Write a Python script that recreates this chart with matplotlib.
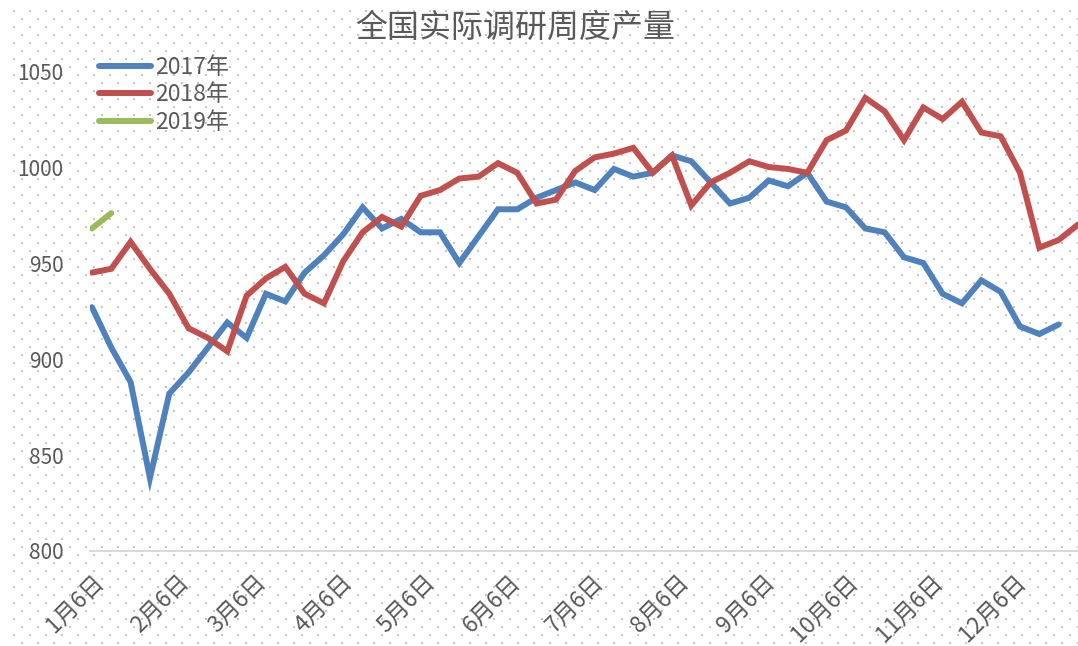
import datetime as dt
import numpy as np
import matplotlib
matplotlib.use("Agg")
import matplotlib.pyplot as plt
import matplotlib.dates as mdates
from matplotlib.ticker import FuncFormatter

plt.rcParams["font.family"] = ["Noto Sans CJK SC", "DejaVu Sans"]

# weekly survey output, week k is Jan 6 + 7k
start = dt.date(2018, 1, 6)
output_2017 = [927, 906, 888, 838, 882, 893, 906, 919, 911, 934, 930, 945, 954, 965, 979,
               968, 973, 966, 966, 950, 964, 978, 978, 984, 988, 992, 988, 999, 995, 997,
               1006, 1003, 992, 981, 984, 993, 990, 997, 982, 979, 968, 966, 953, 950, 934,
               929, 941, 935, 917, 913, 918]
output_2018 = [945, 947, 961, 947, 934, 916, 911, 904, 933, 942, 948, 934, 929, 951, 966,
               974, 969, 985, 988, 994, 995, 1002, 997, 981, 983, 998, 1005, 1007, 1010, 997,
               1006, 980, 992, 997, 1003, 1000, 999, 997, 1014, 1019, 1036, 1029, 1014, 1031, 1025,
               1034, 1018, 1016, 997, 958, 962, 970]
output_2019 = [968, 976]
series = [("2017年", output_2017, "#4F81BD"),
          ("2018年", output_2018, "#C0504D"),
          ("2019年", output_2019, "#9BBB59")]

W, H = 1078, 646
fig = plt.figure(figsize=(W / 100, H / 100), dpi=100)

# dotted pattern background of the chart area
bg = fig.add_axes([0, 0, 1, 1], zorder=-1)
bg.set_xlim(0, W)
bg.set_ylim(H, 0)
bg.axis("off")
xs, ys = np.meshgrid(np.arange(14, W, 16), np.arange(10.7, H, 16))
bg.scatter(xs.ravel(), ys.ravel(), s=0.9, marker="s", color="#C4C4C4", linewidths=0)
bg.scatter(xs.ravel() + 8, ys.ravel() + 8, s=0.9, marker="s", color="#C4C4C4", linewidths=0)

ax = fig.add_axes([90 / W, 1 - 551 / H, 1 - 90 / W, (551 - 48) / H])
ax.patch.set_alpha(0)

for name, vals, color in series:
    dates = [start + dt.timedelta(days=7 * i) for i in range(len(vals))]
    ax.plot(dates, vals, color=color, lw=4.3, label=name, solid_capstyle="round",
            solid_joinstyle="miter")

ax.set_ylim(800, 1062)
ax.set_yticks([800, 850, 900, 950, 1000, 1050])
ax.set_xlim(mdates.date2num(start) - 0.7, mdates.date2num(start) + 357)
ax.xaxis.set_major_locator(mdates.DayLocator(bymonthday=6))
ax.xaxis.set_major_formatter(FuncFormatter(
    lambda v, p: "{}月{}日".format(mdates.num2date(v).month, mdates.num2date(v).day)))

for s in ["top", "right", "left"]:
    ax.spines[s].set_visible(False)
ax.spines["bottom"].set_color("#D9D9D9")
ax.spines["bottom"].set_linewidth(1.5)
ax.tick_params(axis="both", length=0, labelcolor="#595959")
ax.tick_params(axis="y", pad=19, labelsize=15)
ax.tick_params(axis="x", pad=14, labelsize=16.5)
for lab in ax.get_xticklabels():
    lab.set_rotation(45)
    lab.set_ha("right")
    lab.set_va("top")
    lab.set_rotation_mode("anchor")
for lab in ax.get_yticklabels():
    lab.set_ha("right")

leg = fig.legend(loc="upper left", bbox_to_anchor=(78 / W, 1 - 35 / H), frameon=False,
                 fontsize=16.5, handlelength=2.3, handletextpad=0.15, labelspacing=0.2,
                 labelcolor="#595959")

fig.text(515 / W, 1 - 28 / H, "全国实际调研周度产量", ha="center", va="center",
         fontsize=23, color="#595959")

fig.savefig("out.png", dpi=100)
